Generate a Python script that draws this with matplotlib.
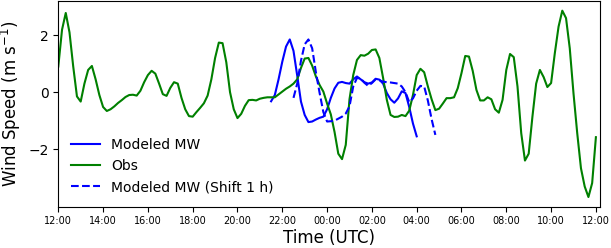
import datetime as dt
import matplotlib
matplotlib.use("Agg")
import matplotlib.pyplot as plt
import matplotlib.dates as mdates

# ---------------- data ----------------
obs_start = dt.datetime(2020, 1, 1, 12, 0)
obs_step_min = 10
obs_values = [
    0.90, 2.19, 2.78, 2.10, 0.90, -0.15, -0.33, 0.30, 0.78, 0.92,
    0.45, -0.10, -0.52, -0.66, -0.60, -0.50, -0.38, -0.28, -0.17, -0.10,
    -0.09, -0.12, 0.05, 0.35, 0.60, 0.75, 0.65, 0.30, -0.07, -0.13,
    0.15, 0.35, 0.30, -0.20, -0.60, -0.84, -0.86, -0.70, -0.55, -0.39,
    -0.12, 0.45, 1.20, 1.74, 1.72, 1.05, 0.00, -0.60, -0.91, -0.76,
    -0.48, -0.28, -0.27, -0.29, -0.23, -0.20, -0.18, -0.18, -0.18, -0.08,
    0.02, 0.12, 0.20, 0.30, 0.45, 0.85, 1.18, 1.20, 0.93, 0.55,
    0.25, 0.02, -0.40, -0.78, -1.40, -2.16, -2.35, -1.85, -0.25, 0.60,
    1.13, 1.30, 1.28, 1.35, 1.48, 1.50, 1.20, 0.50, -0.27, -0.80,
    -0.87, -0.86, -0.80, -0.84, -0.65, -0.10, 0.60, 0.82, 0.70, 0.20,
    -0.25, -0.63, -0.58, -0.40, -0.21, -0.21, -0.18, 0.14, 0.67, 1.27,
    1.25, 0.75, 0.08, -0.29, -0.29, -0.18, -0.25, -0.60, -0.72, -0.27,
    0.78, 1.34, 1.23, 0.20, -1.44, -2.40, -2.16, -0.86, 0.30, 0.78,
    0.53, 0.18, 0.32, 1.37, 2.30, 2.86, 2.60, 1.54, -0.04, -1.44,
    -2.67, -3.31, -3.68, -3.19, -1.58,
]

model_start = dt.datetime(2020, 1, 1, 21, 30)
model_step_min = 10
model_values = [
    -0.32, -0.10, 0.45, 1.07, 1.60, 1.85, 1.45, 0.58, -0.33, -0.80,
    -1.05, -1.03, -0.96, -0.90, -0.86, -0.60, -0.20, 0.13, 0.33, 0.36,
    0.32, 0.30, 0.45, 0.55, 0.45, 0.35, 0.30, 0.34, 0.47, 0.44,
    0.30, -0.03, -0.25, -0.37, -0.22, 0.03, -0.03, -0.52, -1.10, -1.55,
]

shift_start = dt.datetime(2020, 1, 1, 22, 30)
shift_step_min = 10
shift_values = [
    -0.20, 0.30, 1.10, 1.68, 1.85, 1.54, 0.70, -0.03, -0.70, -1.03,
    -1.02, -1.00, -0.93, -0.86, -0.75, -0.50, 0.20, 0.50, 0.48, 0.33,
    0.22, 0.32, 0.45, 0.42, 0.37, 0.35, 0.34, 0.32, 0.30, 0.20,
    0.00, -0.35, -0.22, 0.05, 0.22, 0.20, -0.30, -0.95, -1.50,
]

y_ticks = [-2, 0, 2]
x_label = "Time (UTC)"
y_label = "Wind Speed (m s$^{-1}$)"
legend_labels = ["Modeled MW", "Obs", "Modeled MW (Shift 1 h)"]


def times(start, step, n):
    return [start + dt.timedelta(minutes=step * k) for k in range(n)]


obs_t = times(obs_start, obs_step_min, len(obs_values))
mod_t = times(model_start, model_step_min, len(model_values))
sh_t = times(shift_start, shift_step_min, len(shift_values))

# ---------------- figure ----------------
fig = plt.figure(figsize=(6.11, 2.48), dpi=100)
ax = fig.add_axes([0.0954, 0.1665, 0.8866, 0.8295])

l1, = ax.plot(mod_t, model_values, color="blue", lw=1.5, label=legend_labels[0])
l2, = ax.plot(obs_t, obs_values, color="green", lw=1.5, label=legend_labels[1])
l3, = ax.plot(sh_t, shift_values, color="blue", lw=1.5, ls="--", label=legend_labels[2])

ax.set_xlim(obs_start, obs_start + dt.timedelta(hours=24, minutes=11))
ax.set_ylim(-4.02, 3.2)
ax.set_yticks(y_ticks)
ax.xaxis.set_major_locator(mdates.HourLocator(byhour=range(0, 24, 2)))
ax.xaxis.set_major_formatter(mdates.DateFormatter("%H:%M"))
ax.tick_params(axis="x", labelsize=7)
ax.tick_params(axis="y", labelsize=10)
ax.set_xlabel(x_label, fontsize=12, labelpad=2)
ax.set_ylabel(y_label, fontsize=12)

ax.legend(handles=[l1, l2, l3], loc="lower left", frameon=False, fontsize=10,
          handlelength=2.1, bbox_to_anchor=(0.0, 0.0))

fig.savefig("out.png", dpi=100)
